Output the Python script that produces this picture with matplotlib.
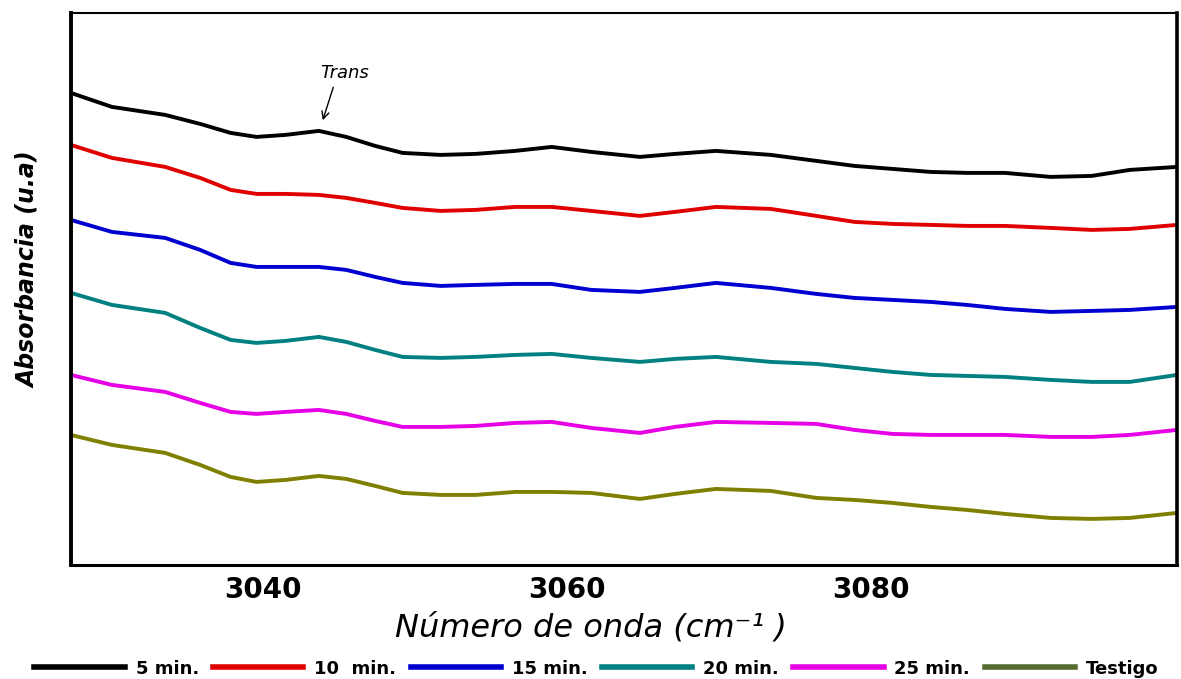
import matplotlib
matplotlib.use('Agg')
import matplotlib.pyplot as plt

# numero de onda (cm-1)
wavenumber = [3027.4, 3030.1, 3033.6, 3035.9, 3037.9, 3039.6, 3041.5, 3043.7, 3045.5, 3047.4,
              3049.2, 3051.7, 3054.0, 3056.6, 3059.0, 3061.6, 3064.8, 3067.1, 3069.8, 3073.4,
              3076.4, 3078.9, 3081.4, 3083.9, 3086.3, 3088.8, 3091.8, 3094.5, 3097.0, 3100.1]

# absorbancia (u.a), espectros desplazados
abs_5 = [4.72, 4.58, 4.50, 4.41, 4.32, 4.28, 4.30, 4.34, 4.28, 4.19, 4.12, 4.10, 4.11, 4.14, 4.18,
         4.13, 4.08, 4.11, 4.14, 4.10, 4.04, 3.99, 3.96, 3.93, 3.92, 3.92, 3.88, 3.89, 3.95, 3.98]
abs_10 = [4.20, 4.07, 3.98, 3.87, 3.75, 3.71, 3.71, 3.70, 3.67, 3.62, 3.57, 3.54, 3.55, 3.58, 3.58,
          3.54, 3.49, 3.53, 3.58, 3.56, 3.49, 3.43, 3.41, 3.40, 3.39, 3.39, 3.37, 3.35, 3.36, 3.40]
abs_15 = [3.45, 3.33, 3.27, 3.15, 3.02, 2.98, 2.98, 2.98, 2.95, 2.88, 2.82, 2.79, 2.80, 2.81, 2.81,
          2.75, 2.73, 2.77, 2.82, 2.77, 2.71, 2.67, 2.65, 2.63, 2.60, 2.56, 2.53, 2.54, 2.55, 2.58]
abs_20 = [2.72, 2.60, 2.52, 2.37, 2.25, 2.22, 2.24, 2.28, 2.23, 2.15, 2.08, 2.07, 2.08, 2.10, 2.11,
          2.07, 2.03, 2.06, 2.08, 2.03, 2.01, 1.97, 1.93, 1.90, 1.89, 1.88, 1.85, 1.83, 1.83, 1.90]
abs_25 = [1.90, 1.80, 1.73, 1.62, 1.53, 1.51, 1.53, 1.55, 1.51, 1.44, 1.38, 1.38, 1.39, 1.42, 1.43,
          1.37, 1.32, 1.38, 1.43, 1.42, 1.41, 1.35, 1.31, 1.30, 1.30, 1.30, 1.28, 1.28, 1.30, 1.35]
abs_testigo = [1.30, 1.20, 1.12, 1.00, 0.88, 0.83, 0.85, 0.89, 0.86, 0.79, 0.72, 0.70, 0.70, 0.73, 0.73,
               0.72, 0.66, 0.71, 0.76, 0.74, 0.67, 0.65, 0.62, 0.58, 0.55, 0.51, 0.47, 0.46, 0.47, 0.52]

series = [abs_5, abs_10, abs_15, abs_20, abs_25, abs_testigo]
labels = ['5 min.', '10  min.', '15 min.', '20 min.', '25 min.', 'Testigo']
colors = ['#000000', '#e00000', '#0000d0', '#008080', '#e600e6', '#808000']
xticks = [3040, 3060, 3080]

fig = plt.figure(figsize=(11.81, 6.79), dpi=100)
ax = fig.add_axes([0.060, 0.168, 0.9366, 0.813])

for y, lab, c in zip(series, labels, colors):
    ax.plot(wavenumber, y, color=c, lw=2.8, label=lab, solid_joinstyle='round')

ax.set_xlim(3027.4, 3100.1)
ax.set_ylim(0, 5.52)
ax.set_xticks(xticks)
ax.set_xticklabels([str(t) for t in xticks], fontsize=20, fontweight='bold')
ax.set_yticks([])
ax.tick_params(axis='x', length=0, pad=8)

ax.spines['left'].set_linewidth(2.8)
ax.spines['bottom'].set_linewidth(2.2)
ax.spines['top'].set_linewidth(1.5)
ax.spines['right'].set_linewidth(2.6)

# pico trans
ax.annotate('Trans', xy=(3043.9, 4.42), xytext=(3045.4, 4.92), ha='center', va='center',
            fontsize=13, style='italic',
            arrowprops=dict(arrowstyle='->', color='black', lw=1, relpos=(0.3, 0.0)))

fig.text(0.5, 1 - 628 / 679, 'Número de onda (cm⁻¹ )', ha='center', va='center',
         fontsize=23, style='italic')
fig.text(28 / 1181, 1 - 270 / 679, 'Absorbancia (u.a)', ha='center', va='center',
         rotation=90, fontsize=17, fontweight='bold', style='italic')

leg = fig.legend(loc='lower center', bbox_to_anchor=(0.505, -0.022), ncol=6, frameon=False,
                 handlelength=5.0, handletextpad=0.6, columnspacing=0.8,
                 prop={'size': 13, 'weight': 'bold'})
for line in leg.get_lines():
    line.set_linewidth(4)
leg.get_lines()[5].set_color('#556b2f')

plt.savefig('out.png', dpi=100)
